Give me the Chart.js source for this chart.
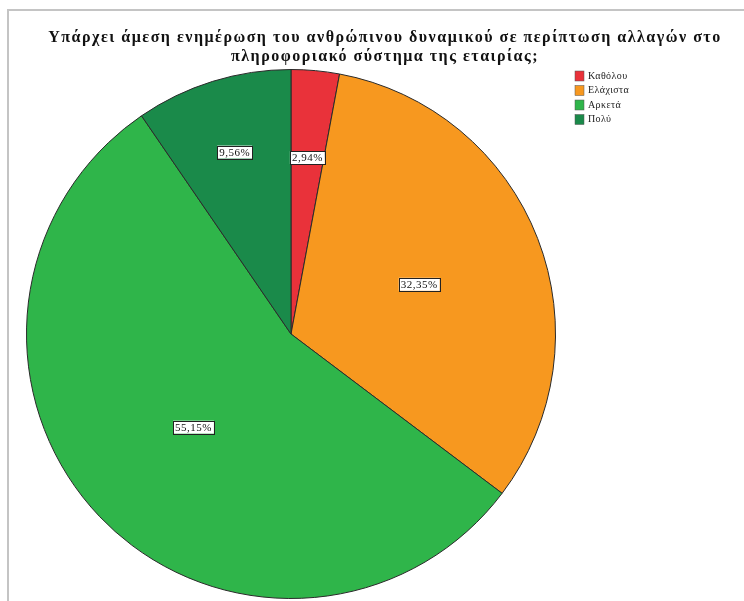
<!DOCTYPE html>
<html lang="el">
<head>
  <meta charset="UTF-8">
  <title>Ενημέρωση ανθρώπινου δυναμικού</title>
  <script src="https://cdn.jsdelivr.net/npm/chart.js"></script>
  <style>
    body { margin: 0; background: #fff; }
    #wrap { position: relative; width: 744px; height: 601px; overflow: hidden; }
    /* thin grey frame on top and left, like the export window */
    #frame {
      position: absolute; left: 7px; top: 9px; right: -4px; bottom: -4px;
      border-top: 2px solid #c4c4c4; border-left: 2px solid #c4c4c4;
    }
    canvas { position: absolute; left: 0; top: 0; }
  </style>
</head>
<body>
  <div id="wrap">
    <div id="frame"></div>
    <canvas id="pieChart" width="744" height="601"></canvas>
  </div>

  <script>
    const titleLines = [
      'Υπάρχει άμεση ενημέρωση του ανθρώπινου δυναμικού σε περίπτωση αλλαγών στο',
      'πληροφοριακό σύστημα της εταιρίας;'
    ];
    const categories = ['Καθόλου', 'Ελάχιστα', 'Αρκετά', 'Πολύ'];
    const percents = [2.94, 32.35, 55.15, 9.56];
    const colors = ['#e9323a', '#f7981f', '#2fb54a', '#1a8a4a'];

    // how far out along each slice the value box sits (fraction of radius)
    const labelRadius = [0.67, 0.52, 0.51, 0.72];

    const serif = '"Liberation Serif", "DejaVu Serif", serif';

    // title, drawn centred across the whole window
    const titlePlugin = {
      id: 'twoLineTitle',
      afterDraw(chart) {
        const ctx = chart.ctx;
        ctx.save();
        ctx.font = 'bold 16px ' + serif;
        ctx.letterSpacing = '1.5px';
        ctx.fillStyle = '#111';
        ctx.textAlign = 'center';
        ctx.textBaseline = 'middle';
        ctx.fillText(titleLines[0], 385, 38);
        ctx.fillText(titleLines[1], 385, 57);
        ctx.restore();
      }
    };

    // boxed percentage labels inside the slices
    const valueBoxes = {
      id: 'valueBoxes',
      afterDatasetsDraw(chart) {
        const ctx = chart.ctx;
        const meta = chart.getDatasetMeta(0);
        ctx.save();
        ctx.font = '11px ' + serif;
        ctx.letterSpacing = '0.5px';
        ctx.textAlign = 'center';
        ctx.textBaseline = 'middle';
        meta.data.forEach((arc, i) => {
          const p = arc.getProps(['x', 'y', 'startAngle', 'endAngle', 'outerRadius']);
          const mid = (p.startAngle + p.endAngle) / 2;
          const r = p.outerRadius * labelRadius[i];
          const x = p.x + Math.cos(mid) * r;
          const y = p.y + Math.sin(mid) * r;
          const txt = percents[i].toFixed(2).replace('.', ',') + '%';
          const w = ctx.measureText(txt).width + 4;
          const h = 13;
          ctx.fillStyle = '#fff';
          ctx.fillRect(x - w / 2, y - h / 2, w, h);
          ctx.strokeStyle = '#222';
          ctx.lineWidth = 1;
          ctx.strokeRect(Math.round(x - w / 2) + 0.5, Math.round(y - h / 2) + 0.5, Math.round(w), h);
          ctx.fillStyle = '#111';
          ctx.fillText(txt, x, y + 1);
        });
        ctx.restore();
      }
    };

    // small legend at the top right
    const sideLegend = {
      id: 'sideLegend',
      afterDraw(chart) {
        const ctx = chart.ctx;
        ctx.save();
        ctx.font = '10px ' + serif;
        ctx.letterSpacing = '0.4px';
        ctx.textBaseline = 'middle';
        categories.forEach((name, i) => {
          const y = 76 + i * 14.5;
          ctx.fillStyle = colors[i];
          ctx.fillRect(575, y - 5, 9, 10);
          ctx.strokeStyle = '#555';
          ctx.lineWidth = 0.5;
          ctx.strokeRect(575, y - 5, 9, 10);
          ctx.fillStyle = '#222';
          ctx.fillText(name, 588, y);
        });
        ctx.restore();
      }
    };

    new Chart(document.getElementById('pieChart'), {
      type: 'pie',
      data: {
        labels: categories,
        datasets: [{
          data: percents,
          backgroundColor: colors,
          borderColor: '#2a2a2a',
          borderWidth: 1
        }]
      },
      options: {
        responsive: false,
        animation: false,
        layout: { padding: { left: 26, right: 188, top: 69, bottom: 2 } },
        plugins: {
          legend: { display: false },
          title: { display: false },
          tooltip: { enabled: false }
        }
      },
      plugins: [titlePlugin, valueBoxes, sideLegend]
    });
  </script>
</body>
</html>
